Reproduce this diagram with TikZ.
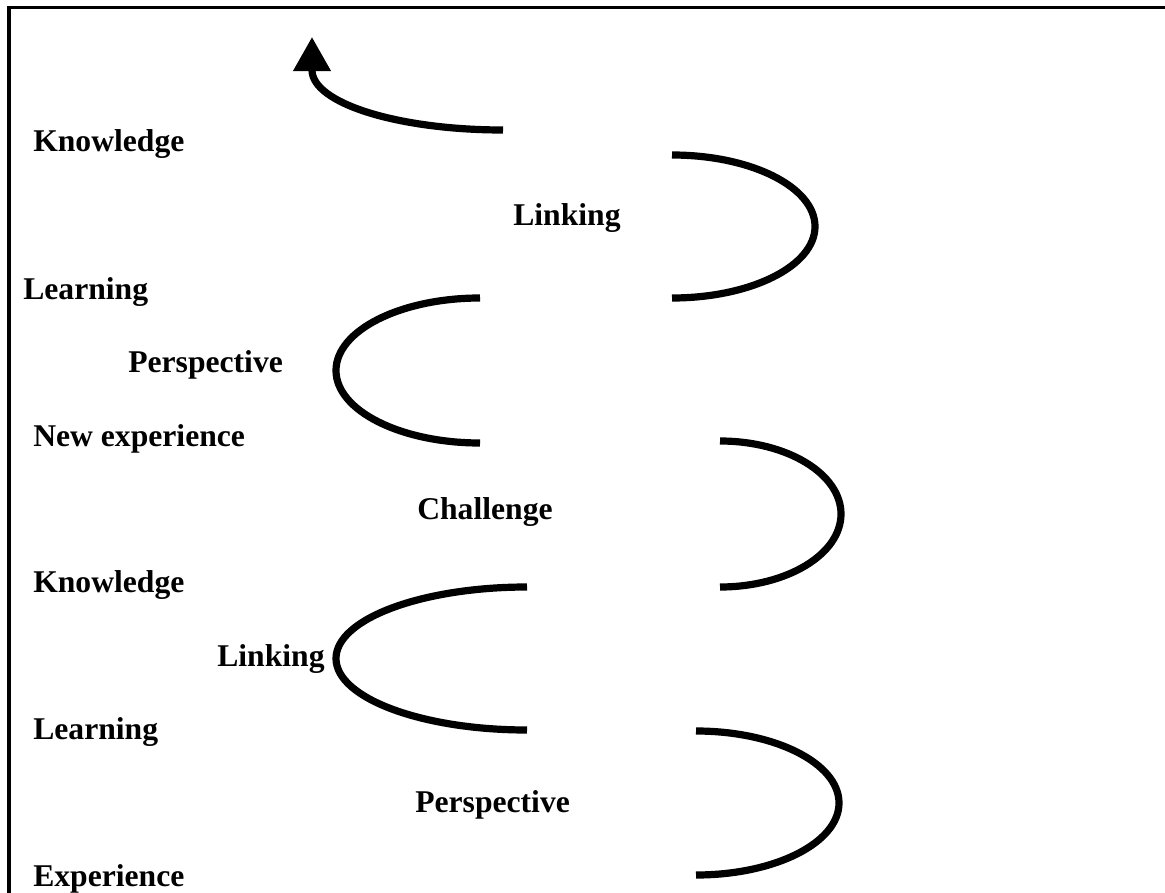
\documentclass[tikz,border=0pt]{standalone}
\usepackage{fontspec}
\setmainfont{Liberation Serif}
\usetikzlibrary{arrows.meta}
\begin{document}
\begin{tikzpicture}[x=0.025cm, y=-0.025cm,
    lbl/.style={anchor=base west, inner sep=0pt, font=\fontsize{22.5}{27}\selectfont\bfseries},
    turn/.style={line width=0.18cm}]
    \useasboundingbox (0,0) rectangle (1165,893);
    \draw[line width=0.075cm] (1170,8) -- (9,8) -- (9,900);

    \node[lbl] (know1) at (33,152) {Knowledge};
    \node[lbl] (link1) at (513,226) {Linking};
    \node[lbl] (learn1) at (23,299) {Learning};
    \node[lbl] (persp1) at (128,372) {Perspective};
    \node[lbl] (newexp) at (33,446) {New experience};
    \node[lbl] (chall) at (417,519) {Challenge};
    \node[lbl] (know2) at (33,592) {Knowledge};
    \node[lbl] (link2) at (217,666) {Linking};
    \node[lbl] (learn2) at (33,739) {Learning};
    \node[lbl] (persp2) at (415,812) {Perspective};
    \node[lbl] (exp) at (33,886) {Experience};

    \coordinate (a1) at (672,155);
    \coordinate (a2) at (480,298);
    \coordinate (a3) at (720,441);
    \coordinate (a4) at (527,587);
    \coordinate (a5) at (696,731);
    \coordinate (top) at (503,130);

    \draw[turn] (a1) arc[start angle=-90, end angle=90, x radius=143, y radius=71.5];
    \draw[turn] (a2) arc[start angle=-90, end angle=-270, x radius=144, y radius=72.5];
    \draw[turn] (a3) arc[start angle=-90, end angle=90, x radius=121, y radius=73];
    \draw[turn] (a4) arc[start angle=-90, end angle=-270, x radius=191, y radius=71.5];
    \draw[turn] (a5) arc[start angle=-90, end angle=90, x radius=143, y radius=72];
    \draw[turn, -{Triangle[length=0.85cm, width=0.9cm]}] (top) arc[start angle=90, end angle=180, x radius=191, y radius=60] -- ++(0,-33);
\end{tikzpicture}
\end{document}
